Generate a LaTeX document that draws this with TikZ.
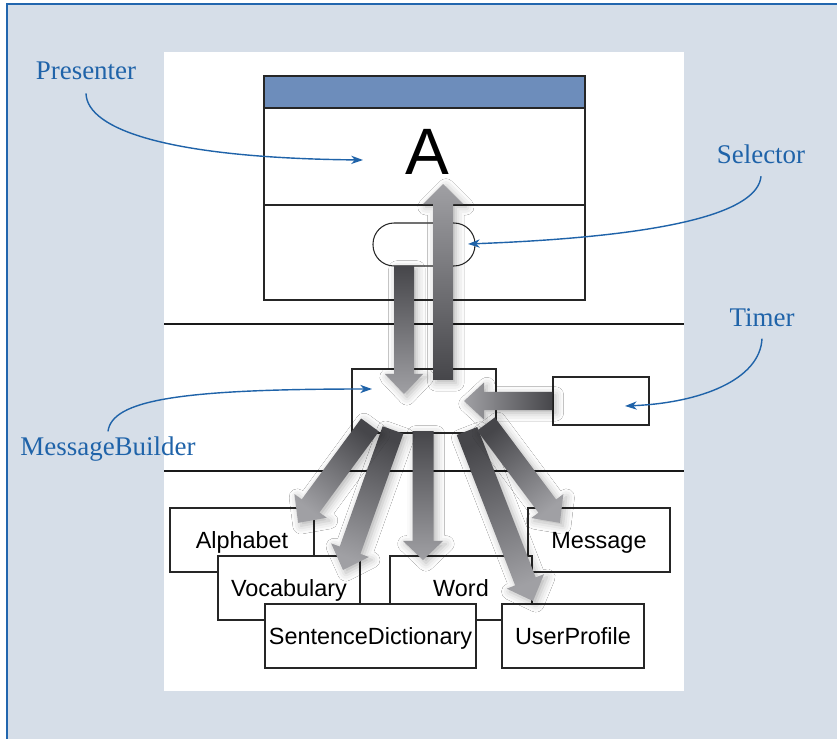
\documentclass[tikz,border=0pt]{standalone}
\usepackage{fontspec}
\newfontfamily\boxfont{Liberation Sans}
\newfontfamily\labelfont{Liberation Serif}
\usetikzlibrary{arrows.meta,calc,shadows.blur}
\definecolor{bgblue}{HTML}{D6DEE8}
\definecolor{frameblue}{HTML}{2266AE}
\definecolor{labelblue}{HTML}{1F63A9}
\definecolor{headblue}{HTML}{6D8DBB}
\definecolor{arrdark}{HTML}{46464A}
\definecolor{arrlight}{HTML}{A0A0A4}
\tikzset{
  frameline/.style={draw=black!85, line width=0.9pt},
  classbox/.style={frameline, fill=white, inner sep=0pt,
    font=\boxfont\fontsize{20}{24}\selectfont, text height=14.4pt, text depth=0pt},
  emptybox/.style={frameline, fill=white, inner sep=0pt},
  calloutlabel/.style={text=labelblue, font=\labelfont\fontsize{23}{27}\selectfont, inner sep=0pt, anchor=base},
  callout/.style={draw=labelblue, line width=1.2pt, -{Stealth[length=10pt,width=7pt,inset=3pt]}},
  blockarr/.style={top color=arrlight, bottom color=arrdark,
    blur shadow={shadow xshift=2.5pt, shadow yshift=-2.5pt, shadow blur radius=7pt, shadow opacity=30}},
  divider/.style={draw=black!90, line width=1.3pt},
}
% #1 tail, #2 tip, #3 shaft width, #4 head width, #5 head length (picture units)
\newcommand\blockarrow[5]{%
  \path let \p1=(#1), \p2=(#2) in \pgfextra{%
    \pgfmathsetmacro\baA{atan2(\y2-\y1,\x2-\x1)}%
    \pgfmathsetmacro\baL{veclen(\x2-\x1,\y2-\y1)/0.853583}%
    \xdef\baAng{\baA}\xdef\baLen{\baL}};
  \pgfmathsetmacro\baSh{\baAng-90}%
  \begin{scope}[shift={(#1)}, rotate=\baAng]
    \shade[blockarr, shading angle=\baSh]
      (0,-#3/2) -- ({\baLen-#5},-#3/2) -- ({\baLen-#5},-#4/2) -- (\baLen,0)
      -- ({\baLen-#5},#4/2) -- ({\baLen-#5},#3/2) -- (0,#3/2) -- cycle;
  \end{scope}}
\begin{document}
\begin{tikzpicture}[x=0.03cm,y=0.03cm]
\useasboundingbox (0,0) rectangle (837,-739);
\fill[white] (0,0) rectangle (837,-739);
\fill[bgblue] (7,-4) rectangle (837,-739);
\draw[frameblue, line width=2pt] (7,-739) -- (7,-4) -- (837,-4);
\fill[white] (164,-52) rectangle (684,-691);

% presenter window
\fill[headblue] (264,-76) rectangle (585,-108);
\node[frameline, minimum width=9.63cm, minimum height=6.72cm, inner sep=0pt] (presenter) at (424.5,-188) {};
\draw[frameline] (264,-108) -- (585,-108);
\draw[frameline] (264,-205) -- (585,-205);
\node[font=\boxfont\fontsize{56}{60}\selectfont, inner sep=0pt, anchor=base] (letterA) at (427,-175) {A};
\node[frameline, rounded corners=18pt, minimum width=3.06cm, minimum height=1.29cm, inner sep=0pt] (selector) at (424,-244.5) {};

% dividers
\draw[divider] (164,-324) -- (684,-324);
\draw[divider] (164,-471) -- (684,-471);

% message builder and timer
\node[emptybox, minimum width=4.32cm, minimum height=1.92cm] (mb) at (424,-401) {};
\node[emptybox, minimum width=2.88cm, minimum height=1.44cm] (timer) at (601,-401) {};

% class boxes
\node[classbox, minimum width=4.32cm, minimum height=1.92cm] (alphabet) at (242,-540) {Alphabet};
\node[classbox, minimum width=4.26cm, minimum height=1.92cm] (message) at (599,-540) {Message};
\node[classbox, minimum width=4.26cm, minimum height=1.92cm] (vocab) at (289,-588) {Vocabulary};
\node[classbox, minimum width=4.26cm, minimum height=1.92cm] (word) at (461,-588) {Word};
\node[classbox, minimum width=6.33cm, minimum height=1.92cm] (sentdict) at (370.5,-636) {SentenceDictionary};
\node[classbox, minimum width=4.26cm, minimum height=1.92cm] (userprof) at (573,-636) {UserProfile};

% block arrow end points
\coordinate (dpTail) at (404,-266);  \coordinate (dpTip) at (404,-394);
\coordinate (upTail) at (443,-380);  \coordinate (upTip) at (443,-184);
\coordinate (tmTip) at (464,-401);
\coordinate (alTail) at (370,-425);  \coordinate (alTip) at (298,-523);
\coordinate (voTail) at (393,-430);  \coordinate (voTip) at (343,-570);
\coordinate (woTail) at (423,-431);  \coordinate (woTip) at (423,-560);
\coordinate (upfTail) at (467,-431); \coordinate (upfTip) at (533,-601);
\coordinate (msTail) at (486,-424);  \coordinate (msTip) at (560,-523);

\blockarrow{dpTail}{dpTip}{20}{38}{20}
\blockarrow{upTail}{upTip}{20}{40}{20}
\blockarrow{timer.west}{tmTip}{18}{37}{20}
\blockarrow{woTail}{woTip}{21}{40}{19}
\blockarrow{voTail}{voTip}{22}{40}{21}
\blockarrow{alTail}{alTip}{22}{40}{21}
\blockarrow{upfTail}{upfTip}{22}{40}{21}
\blockarrow{msTail}{msTip}{22}{40}{21}

% callouts
\node[calloutlabel] (lPres) at (86,-80) {Presenter};
\node[calloutlabel] (lSel) at (761,-164) {Selector};
\node[calloutlabel] (lTimer) at (762,-327) {Timer};
\node[calloutlabel] (lMB) at (108,-455) {MessageBuilder};
\coordinate (presTarget) at (363,-160);
\coordinate (selTarget) at (468,-244);
\coordinate (timerTarget) at (625,-406);
\coordinate (mbTarget) at (372,-389);
\draw[callout] ([yshift=-11pt]lPres.south) .. controls (87,-130) and (170,-158) .. (presTarget);
\draw[callout] ([yshift=-10pt]lSel.south) .. controls (758,-210) and (680,-236) .. (selTarget);
\draw[callout] ([yshift=-9.5pt]lTimer.south) .. controls (760,-380) and (700,-403) .. (timerTarget);
\draw[callout] ([yshift=4pt]lMB.north) .. controls (112,-400) and (180,-389) .. (mbTarget);
\end{tikzpicture}
\end{document}
